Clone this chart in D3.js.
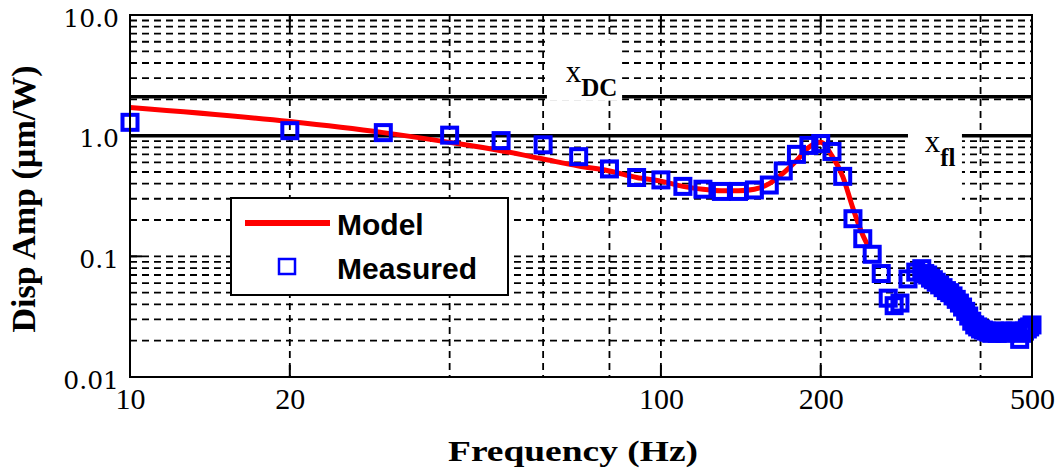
<!DOCTYPE html>
<html lang="en">
<head>
    <meta charset="UTF-8">
    <title>Disp Amp vs Frequency</title>
    <script src="https://d3js.org/d3.v7.min.js"></script>
    <style>
        body { margin: 0; background: #fff; }
        svg { display: block; }
    </style>
</head>
<body>
    <svg id="chart"></svg>
    <script>
        // tick values and labels
        const freqTicks = [10, 20, 100, 200, 500];
        const ampTicks = [0.01, 0.1, 1, 10];
        const ampTickLabels = ["0.01", "0.1", "1.0", "10.0"];
        const freqGrid = [20, 40, 60, 80, 100, 200, 400];
        const ampGrid = [0.01, 0.1, 1].flatMap(d => [2, 3, 4, 5, 6, 7, 8, 9].map(k => k * d)).concat([0.1]);

        // model curve
        const modelFreq = [10, 20, 30, 40, 50, 60, 70, 80, 90, 100, 110, 120, 130, 140, 150, 160, 170, 180, 190, 200, 210, 220, 230, 240, 246];
        const modelAmp = [1.71, 1.31, 1.06, 0.88, 0.75, 0.64, 0.56, 0.51, 0.45, 0.42, 0.38, 0.36, 0.35, 0.35, 0.36, 0.40, 0.49, 0.62, 0.80, 0.88, 0.68, 0.46, 0.25, 0.15, 0.12];

        // measured points
        const measFreq = [10, 20, 30, 40, 50, 60, 70, 80, 90, 100, 110, 120, 130, 140, 150, 160, 170, 180, 190, 200,
            210, 220, 230, 240, 250, 260, 268, 275, 282, 292, 302, 310, 314, 318, 322, 326, 330, 335, 340, 345,
            350, 355, 360, 365, 370, 375, 380, 385, 390, 395, 400, 405, 410, 415, 420, 425, 430, 435, 440, 445,
            450, 455, 460, 465, 470, 474, 478, 484, 490, 495, 500];
        const measAmp = [1.29, 1.10, 1.06, 1.01, 0.91, 0.84, 0.67, 0.53, 0.45, 0.43, 0.38, 0.36, 0.345, 0.345, 0.355, 0.39, 0.51, 0.70, 0.83, 0.86,
            0.74, 0.46, 0.205, 0.14, 0.104, 0.072, 0.045, 0.039, 0.041, 0.065, 0.074, 0.079, 0.072, 0.070, 0.066, 0.064, 0.061, 0.058, 0.055, 0.052,
            0.050, 0.047, 0.044, 0.041, 0.038, 0.035, 0.032, 0.029, 0.027, 0.026, 0.025, 0.0245, 0.024, 0.0235, 0.023, 0.024, 0.023, 0.0235, 0.024, 0.023,
            0.0235, 0.024, 0.0235, 0.024, 0.0235, 0.0205, 0.023, 0.024, 0.025, 0.026, 0.027];

        // reference levels and the label gaps around them [f0, f1, a0, a1]
        const xDC = 2.1;
        const xFl = 1.0;
        const dcGap = [61, 84.5, 1.95, 6.3];
        const flGap = [292, 369, 0.264, 1.14];

        const W = 1061, H = 469;
        const plot = { left: 130, right: 1032, top: 15, bottom: 377 };

        const svg = d3.select("#chart").attr("width", W).attr("height", H);

        const x = d3.scaleLog().domain([10, 500]).range([plot.left, plot.right]);
        const y = d3.scaleLog().domain([0.01, 10]).range([plot.bottom, plot.top]);

        // dashed grid
        svg.append("g").selectAll("line").data(ampGrid).enter().append("line")
            .attr("x1", plot.left).attr("x2", plot.right)
            .attr("y1", d => y(d)).attr("y2", d => y(d))
            .attr("stroke", "#000").attr("stroke-width", 1.8).attr("stroke-dasharray", "7,5");
        svg.append("g").selectAll("line").data(freqGrid).enter().append("line")
            .attr("x1", d => x(d)).attr("x2", d => x(d))
            .attr("y1", plot.top).attr("y2", plot.bottom)
            .attr("stroke", "#000").attr("stroke-width", 1.8).attr("stroke-dasharray", "7,5");

        // major ticks
        const tk = svg.append("g").attr("stroke", "#000").attr("stroke-width", 2);
        ampTicks.forEach(d => {
            tk.append("line").attr("x1", plot.left).attr("x2", plot.left + 12).attr("y1", y(d)).attr("y2", y(d));
            tk.append("line").attr("x1", plot.right - 12).attr("x2", plot.right).attr("y1", y(d)).attr("y2", y(d));
        });
        freqTicks.forEach(d => {
            tk.append("line").attr("x1", x(d)).attr("x2", x(d)).attr("y1", plot.bottom).attr("y2", plot.bottom - 12);
            tk.append("line").attr("x1", x(d)).attr("x2", x(d)).attr("y1", plot.top).attr("y2", plot.top + 12);
        });

        // reference lines
        [xDC, xFl].forEach(v => {
            svg.append("line").attr("x1", plot.left).attr("x2", plot.right)
                .attr("y1", y(v)).attr("y2", y(v))
                .attr("stroke", "#000").attr("stroke-width", 3.5);
        });

        // white boxes behind the labels
        [dcGap, flGap].forEach(g => {
            svg.append("rect")
                .attr("x", x(g[0])).attr("width", x(g[1]) - x(g[0]))
                .attr("y", y(g[3])).attr("height", y(g[2]) - y(g[3]))
                .attr("fill", "#fff");
        });

        const lab = (fx, fy, sub) => {
            const t = svg.append("text").attr("x", x(fx)).attr("y", y(fy))
                .attr("font-family", "Liberation Serif, serif").attr("fill", "#000");
            t.append("tspan").attr("font-size", 31).text("x");
            t.append("tspan").attr("font-size", 25).attr("font-weight", "bold").attr("dy", 14).text(sub);
        };
        lab(66.2, 2.78, "DC");
        lab(314, 0.73, "fl");

        // model
        const line = d3.line().x(d => x(d[0])).y(d => y(d[1])).curve(d3.curveMonotoneX);
        svg.append("path")
            .datum(modelFreq.map((f, i) => [f, modelAmp[i]]))
            .attr("d", line)
            .attr("fill", "none").attr("stroke", "#ff0000").attr("stroke-width", 5);

        // measured
        const sq = 15;
        svg.append("g").selectAll("rect").data(measFreq.map((f, i) => [f, measAmp[i]])).enter().append("rect")
            .attr("x", d => x(d[0]) - sq / 2).attr("y", d => y(d[1]) - sq / 2)
            .attr("width", sq).attr("height", sq)
            .attr("fill", "none").attr("stroke", "#0000ff").attr("stroke-width", 4);

        // legend
        const lg = svg.append("g");
        lg.append("rect").attr("x", 231).attr("y", 198).attr("width", 277).attr("height", 97)
            .attr("fill", "#fff").attr("stroke", "#000").attr("stroke-width", 2);
        lg.append("line").attr("x1", 245).attr("x2", 330).attr("y1", 223).attr("y2", 223)
            .attr("stroke", "#ff0000").attr("stroke-width", 6);
        lg.append("rect").attr("x", 279).attr("y", 259).attr("width", 16).attr("height", 15)
            .attr("fill", "none").attr("stroke", "#0000ff").attr("stroke-width", 2.5);
        lg.selectAll("text").data(["Model", "Measured"]).enter().append("text")
            .attr("x", 337).attr("y", (d, i) => 235 + i * 44)
            .attr("font-family", "Liberation Sans, Arial, sans-serif").attr("font-weight", "bold")
            .attr("font-size", 30).text(d => d);

        // frame
        svg.append("rect").attr("x", plot.left).attr("y", plot.top)
            .attr("width", plot.right - plot.left).attr("height", plot.bottom - plot.top)
            .attr("fill", "none").attr("stroke", "#000").attr("stroke-width", 2);

        // axes
        const yAxis = svg.append("g").attr("transform", `translate(${plot.left},0)`)
            .call(d3.axisLeft(y).tickValues(ampTicks).tickFormat((d, i) => ampTickLabels[i]).tickSize(0).tickPadding(11));
        yAxis.select(".domain").remove();
        yAxis.selectAll("text").attr("font-family", "DejaVu Serif, serif").attr("font-size", 25)
            .attr("fill", "#000").attr("dy", "0.45em");

        const xAxis = svg.append("g").attr("transform", `translate(0,${plot.bottom})`)
            .call(d3.axisBottom(x).tickValues(freqTicks).tickFormat(d3.format("d")).tickSize(0).tickPadding(11));
        xAxis.select(".domain").remove();
        xAxis.selectAll("text").attr("font-family", "Liberation Serif, serif").attr("font-size", 30).attr("fill", "#000");

        svg.append("text")
            .attr("transform", "translate(35,199) rotate(-90)")
            .attr("text-anchor", "middle")
            .attr("font-family", "Liberation Serif, serif").attr("font-weight", "bold").attr("font-size", 34)
            .text("Disp Amp (µm/W)");

        svg.append("text")
            .attr("x", 573).attr("y", 461)
            .attr("text-anchor", "middle")
            .attr("font-family", "Liberation Serif, serif").attr("font-weight", "bold").attr("font-size", 30)
            .attr("textLength", 250).attr("lengthAdjust", "spacingAndGlyphs")
            .text("Frequency (Hz)");
    </script>
</body>
</html>
